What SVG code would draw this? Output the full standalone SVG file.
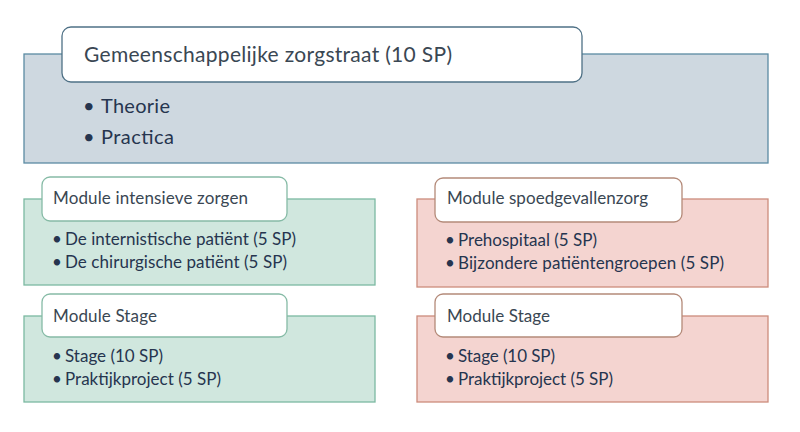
<svg xmlns="http://www.w3.org/2000/svg" width="800" height="432" viewBox="0 0 800 432">
<style>
text{font-family:Lato,"Open Sans","Liberation Sans",sans-serif;}
.hd{fill:#3a4753;}
.bl{fill:#26354f;}
.big{font-size:21px;}
.mid{font-size:20px;}
.sm{font-size:17px;}
.gbody{fill:#ced8e0;stroke:#5b8ba3;stroke-width:1.3;}
.ghead{fill:#ffffff;stroke:#4f7186;stroke-width:1.3;}
.tbody{fill:#d0e7de;stroke:#7bb9a1;stroke-width:1.3;}
.thead{fill:#ffffff;stroke:#86bba6;stroke-width:1.3;}
.rbody{fill:#f4d4d0;stroke:#cc8c7c;stroke-width:1.3;}
.rhead{fill:#ffffff;stroke:#b48a79;stroke-width:1.3;}
</style>
<rect width="800" height="432" fill="#ffffff"/>
<g id="common">
<rect class="gbody" x="24" y="54" width="744" height="109"/>
<rect class="ghead" x="62" y="27" width="520" height="55" rx="9"/>
<text class="hd big" x="84" y="62" textLength="368">Gemeenschappelijke zorgstraat (10 SP)</text>
<text class="bl mid" x="83" y="113">•</text>
<text class="bl mid" x="101" y="113" textLength="69">Theorie</text>
<text class="bl mid" x="83" y="144">•</text>
<text class="bl mid" x="101" y="144" textLength="73">Practica</text>
</g>
<g id="ic">
<rect class="tbody" x="24" y="199" width="351" height="86"/>
<rect class="thead" x="42" y="177" width="245" height="44" rx="8"/>
<text class="hd sm" x="53" y="204" textLength="195">Module intensieve zorgen</text>
<text class="bl sm" x="52" y="245">•</text>
<text class="bl sm" x="65" y="245" textLength="231">De internistische patiënt (5 SP)</text>
<text class="bl sm" x="52" y="268">•</text>
<text class="bl sm" x="65" y="268" textLength="222">De chirurgische patiënt (5 SP)</text>
</g>
<g id="ic-stage">
<rect class="tbody" x="24" y="316" width="351" height="86"/>
<rect class="thead" x="42" y="294" width="245" height="43" rx="8"/>
<text class="hd sm" x="53" y="322" textLength="104">Module Stage</text>
<text class="bl sm" x="52" y="362">•</text>
<text class="bl sm" x="65" y="362" textLength="98">Stage (10 SP)</text>
<text class="bl sm" x="52" y="385">•</text>
<text class="bl sm" x="65" y="385" textLength="156">Praktijkproject (5 SP)</text>
</g>
<g id="sp">
<rect class="rbody" x="417" y="199" width="351" height="88"/>
<rect class="rhead" x="435" y="178" width="247" height="44" rx="8"/>
<text class="hd sm" x="447" y="204" textLength="201">Module spoedgevallenzorg</text>
<text class="bl sm" x="445" y="246">•</text>
<text class="bl sm" x="458" y="246" textLength="139">Prehospitaal (5 SP)</text>
<text class="bl sm" x="445" y="269">•</text>
<text class="bl sm" x="458" y="269" textLength="266">Bijzondere patiëntengroepen (5 SP)</text>
</g>
<g id="sp-stage">
<rect class="rbody" x="417" y="316" width="351" height="86"/>
<rect class="rhead" x="435" y="294" width="247" height="43" rx="8"/>
<text class="hd sm" x="447" y="322" textLength="103">Module Stage</text>
<text class="bl sm" x="445" y="362">•</text>
<text class="bl sm" x="458" y="362" textLength="97">Stage (10 SP)</text>
<text class="bl sm" x="445" y="385">•</text>
<text class="bl sm" x="458" y="385" textLength="155">Praktijkproject (5 SP)</text>
</g>
<g id="connectors"></g>
</svg>
